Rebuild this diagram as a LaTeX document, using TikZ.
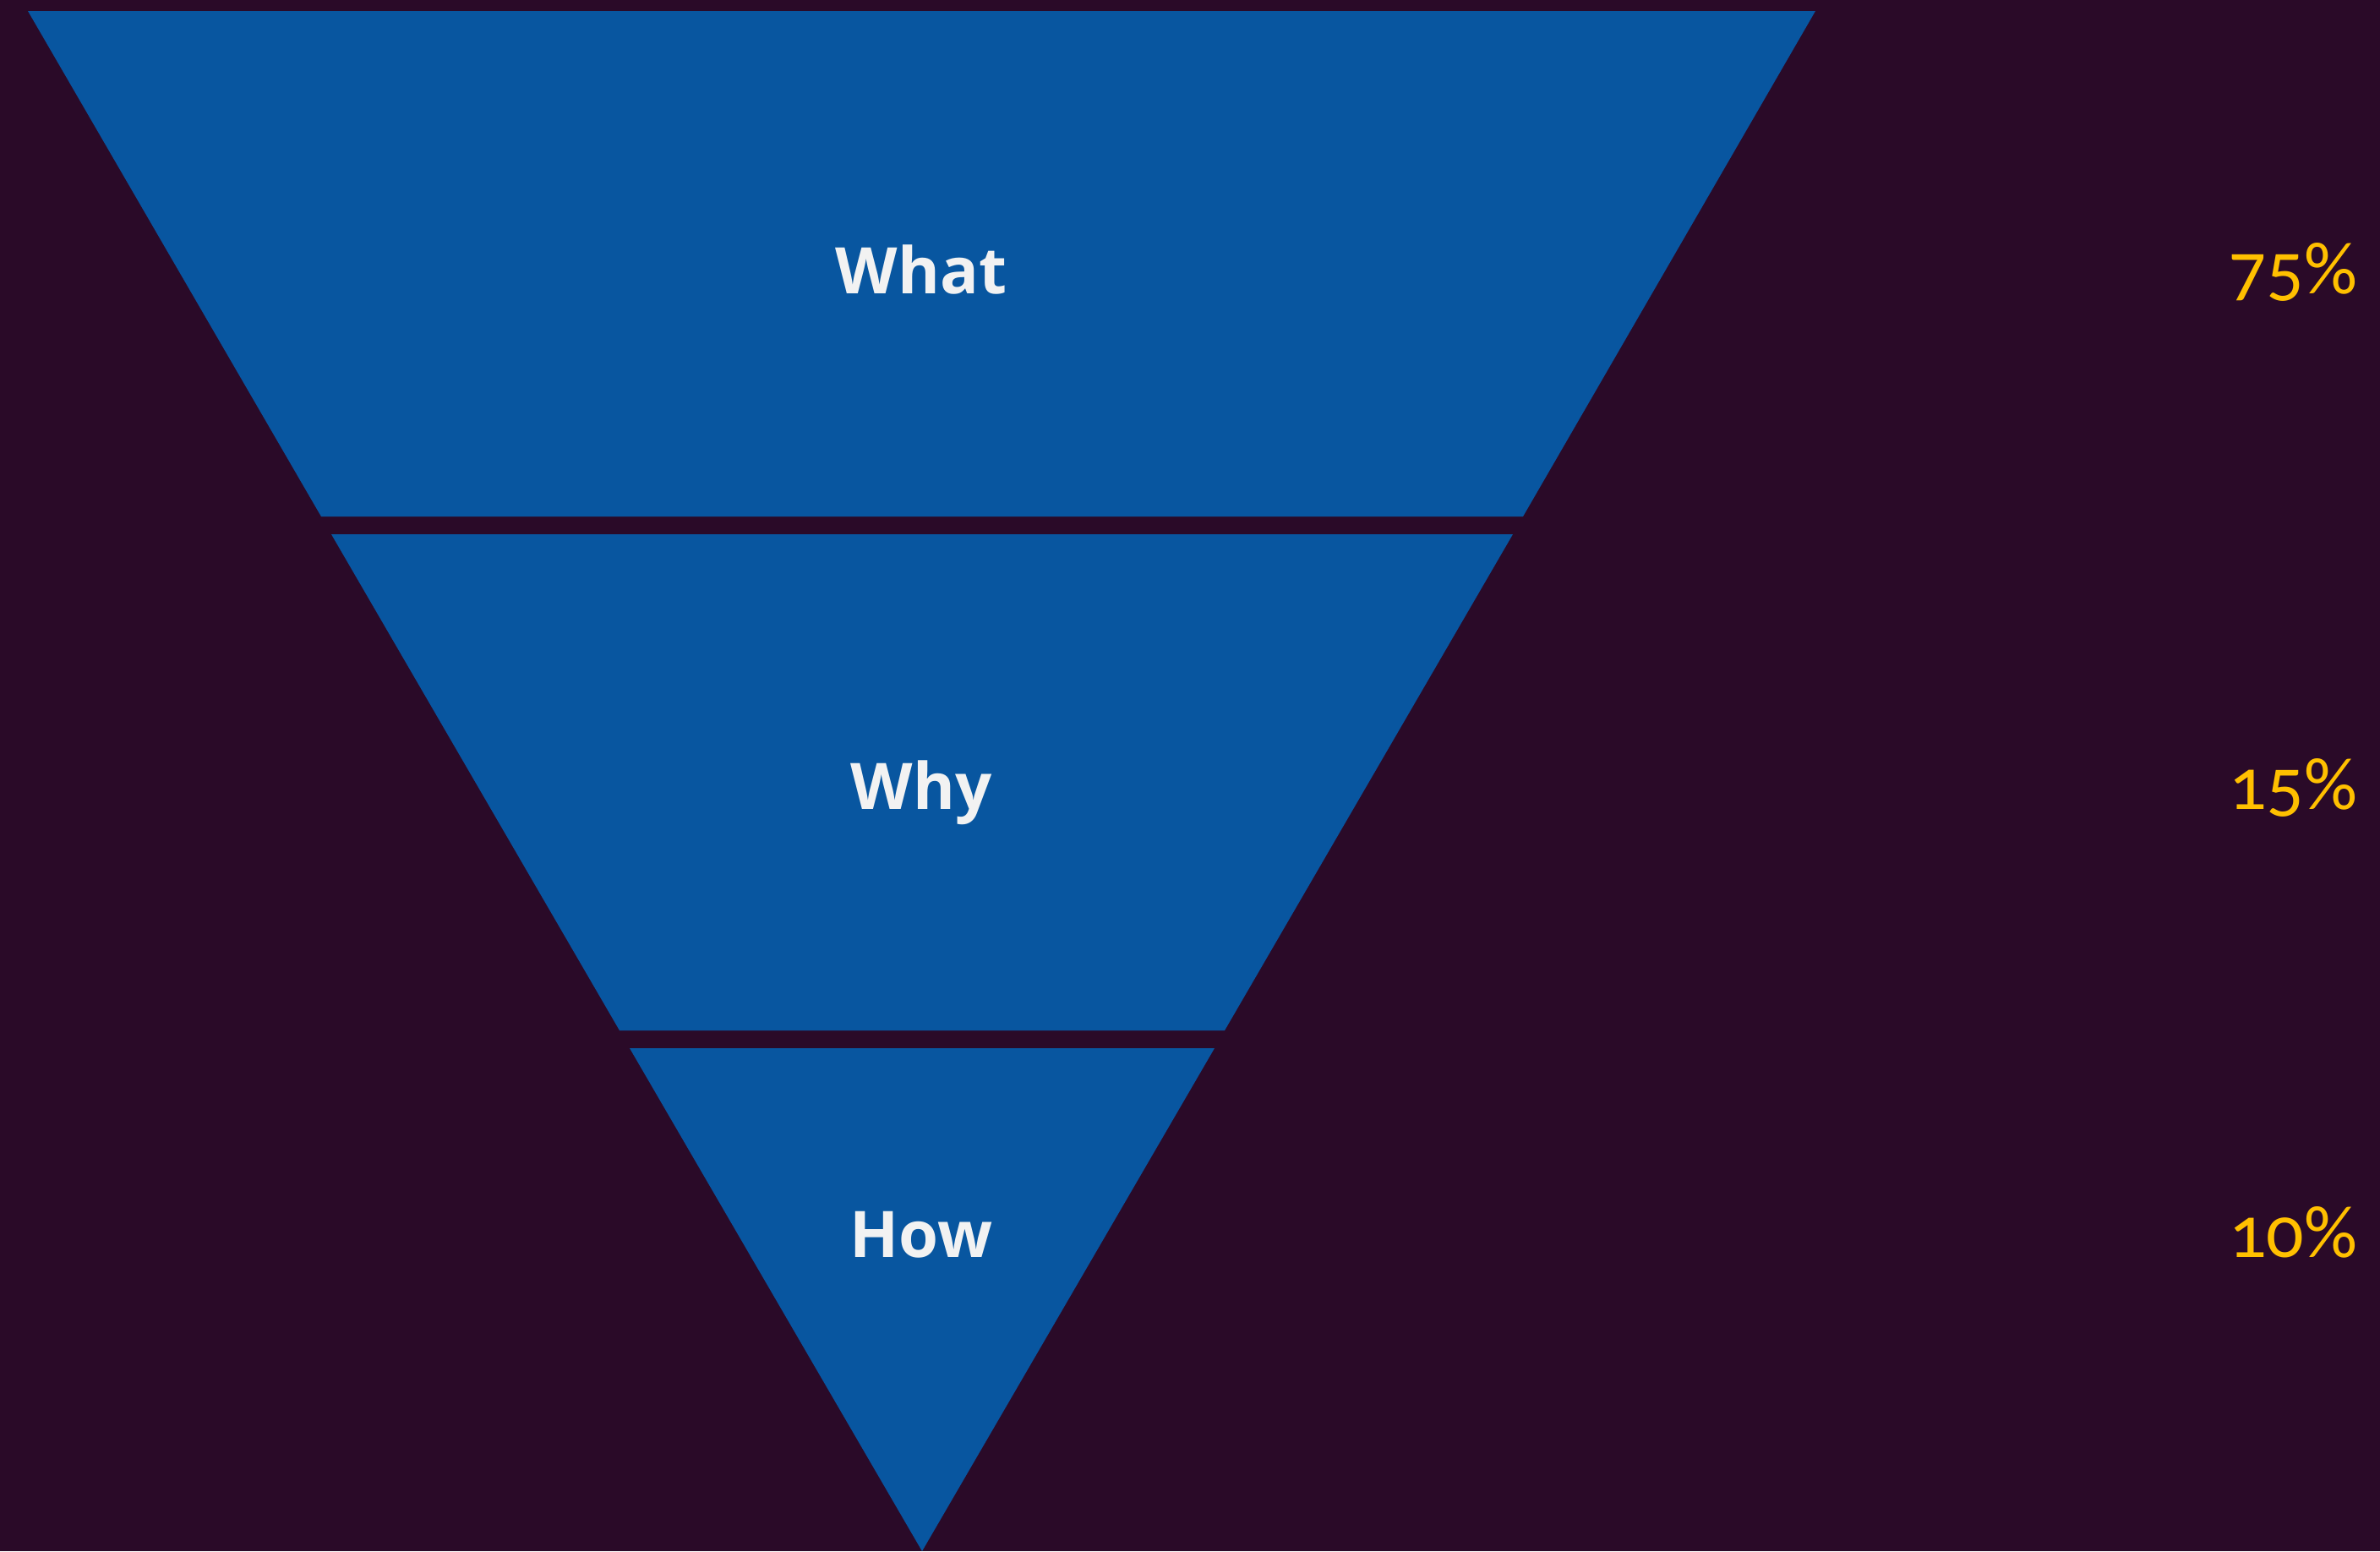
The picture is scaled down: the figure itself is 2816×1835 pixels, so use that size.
\documentclass[tikz,border=0pt]{standalone}
\usepackage{fontspec}
\setmainfont{Open Sans}
\newfontfamily\pctfont[Numbers=OldStyle]{Carlito}
\definecolor{bgc}{HTML}{2A0A28}
\definecolor{bandc}{HTML}{0856A0}
\definecolor{labc}{HTML}{F2F2F2}
\definecolor{pctc}{HTML}{FFC000}
\tikzset{
  band/.style={fill=bandc, draw=none},
  lab/.style={anchor=base, inner sep=0pt, text=labc, font=\fontsize{19}{23}\selectfont\bfseries},
  pct/.style={anchor=base east, inner sep=0pt, text=pctc, font=\fontsize{22}{26}\selectfont\pctfont}
}
\begin{document}
\begin{tikzpicture}[x=0.25pt,y=-0.25pt]
\fill[bgc] (0,0) rectangle (2816,1835);
\useasboundingbox (0,0) rectangle (2816,1835);
% bands
\fill[band] (33,13) -- (2148,13) -- (1802,611) -- (380,611) -- cycle;
\fill[band] (392,632) -- (1790,632) -- (1449,1219) -- (733,1219) -- cycle;
\fill[band] (745,1240) -- (1437,1240) -- (1091,1835) -- cycle;
% labels
\node[lab] (what) at (1090,347) {What};
\node[lab] (why) at (1090,957) {Why};
\node[lab] (how) at (1090,1487) {How};
\node[pct] (p1) at (2790,347) {75\%};
\node[pct] (p2) at (2790,957) {15\%};
\node[pct] (p3) at (2790,1487) {10\%};
\end{tikzpicture}
\end{document}
